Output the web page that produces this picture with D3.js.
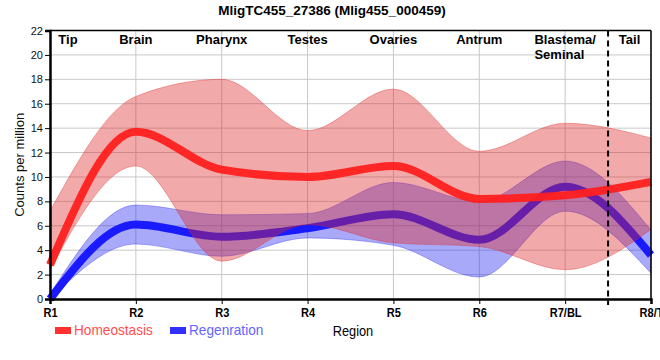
<!DOCTYPE html>
<html>
<head>
<meta charset="utf-8">
<script src="https://cdn.jsdelivr.net/npm/d3@7/dist/d3.min.js"></script>
<style>
  html, body { margin: 0; padding: 0; background: #fff; }
  svg { display: block; }
  text { font-family: "Liberation Sans", Arial, sans-serif; }
</style>
</head>
<body>
<svg id="chart" width="660" height="360"></svg>
<script>
// ---- data ----
const title = "MligTC455_27386 (Mlig455_000459)";
const regions = ["R1", "R2", "R3", "R4", "R5", "R6", "R7/BL", "R8/T"];
const regionNames = ["Tip", "Brain", "Pharynx", "Testes", "Ovaries", "Antrum", "Blastema/\nSeminal", "Tail"];
const yTicks = [0, 2, 4, 6, 8, 10, 12, 14, 16, 18, 20, 22];
const homeoMean = [2.8, 13.7, 10.6, 10.0, 10.9, 8.2, 8.5, 9.6];
const homeoLow  = [2.4, 10.9, 3.1, 6.1, 4.6, 4.3, 2.4, 5.7];
const homeoHigh = [7.2, 16.6, 18.0, 13.8, 17.2, 12.1, 14.4, 13.2];
const regenMean = [0.0, 6.1, 5.1, 5.8, 6.95, 4.85, 9.2, 3.6];
const regenLow  = [0.0, 4.5, 3.5, 5.0, 4.4, 1.8, 7.2, 2.1];
const regenHigh = [0.4, 7.7, 6.9, 7.0, 9.55, 8.0, 11.3, 5.65];
const seriesNames = ["Homeostasis", "Regenration"];
const dividerAt = 6.5; // between R7/BL and R8/T

// ---- layout ----
const svg = d3.select("#chart");
const L = 50, R = 651, T = 30.5, B = 299;
const x = d3.scaleLinear().domain([0, regions.length - 1]).range([L, R]);
const y = d3.scaleLinear().domain([0, 22]).range([B, T]);

// condense helper (narrow font look)
function condense(sel, f) {
  sel.each(function () {
    const w = this.getComputedTextLength();
    d3.select(this).attr("textLength", w * f).attr("lengthAdjust", "spacingAndGlyphs");
  });
}

// grid
const grid = svg.append("g");
grid.selectAll("line.h").data(yTicks).join("line")
  .attr("x1", L).attr("x2", R).attr("y1", d => y(d)).attr("y2", d => y(d))
  .attr("stroke", "#c8c8c8").attr("stroke-width", 1);
grid.selectAll("line.v").data(regions.map((d, i) => i)).join("line")
  .attr("x1", d => x(d)).attr("x2", d => x(d)).attr("y1", T).attr("y2", B)
  .attr("stroke", "#c8c8c8").attr("stroke-width", 1);

const idx = regions.map((d, i) => i);
const curve = d3.curveMonotoneX;
const band = (lo, hi) => d3.area().curve(curve).x(i => x(i)).y0(i => y(lo[i])).y1(i => y(hi[i]))(idx);
const line = (m) => d3.line().curve(curve).x(i => x(i)).y(i => y(m[i]))(idx);

// regeneration (drawn first, below)
svg.append("path").attr("d", band(regenLow, regenHigh))
  .attr("fill", "rgb(40,40,240)").attr("fill-opacity", 0.4)
  .attr("stroke", "rgb(40,40,240)").attr("stroke-opacity", 0.35).attr("stroke-width", 1);
svg.append("path").attr("d", line(regenMean))
  .attr("fill", "none").attr("stroke", "#1a1aff").attr("stroke-width", 8);

// homeostasis
svg.append("path").attr("d", band(homeoLow, homeoHigh))
  .attr("fill", "rgb(220,40,40)").attr("fill-opacity", 0.4)
  .attr("stroke", "rgb(220,40,40)").attr("stroke-opacity", 0.35).attr("stroke-width", 1);
svg.append("path").attr("d", line(homeoMean))
  .attr("fill", "none").attr("stroke", "#ff1f1f").attr("stroke-opacity", 0.95).attr("stroke-width", 8);

// frame
svg.append("line").attr("x1", L).attr("x2", R).attr("y1", T).attr("y2", T).attr("stroke", "#000").attr("stroke-width", 1.5);
svg.append("line").attr("x1", R).attr("x2", R).attr("y1", T).attr("y2", B).attr("stroke", "#000").attr("stroke-width", 1.5);

// axes
const yAxis = d3.axisLeft(y).tickValues(yTicks).tickSize(5).tickPadding(2);
const gy = svg.append("g").attr("transform", `translate(${L},0)`).call(yAxis);
gy.select(".domain").attr("stroke-width", 2.5);
gy.selectAll(".tick line").attr("stroke-width", 1);
gy.selectAll(".tick text").attr("font-size", 11).attr("font-family", "Liberation Sans, Arial, sans-serif").attr("fill", "#111");

const xAxis = d3.axisBottom(x).tickValues(idx).tickFormat(i => regions[i]).tickSize(5).tickPadding(4);
const gx = svg.append("g").attr("transform", `translate(0,${B})`).call(xAxis);
gx.select(".domain").attr("stroke-width", 2.5);
gx.selectAll(".tick text").attr("font-family", "Liberation Sans, Arial, sans-serif")
  .attr("font-size", 13).attr("font-weight", "bold").attr("fill", "#000");
condense(gx.selectAll(".tick text"), 0.85);

// divider
svg.append("line").attr("x1", x(dividerAt)).attr("x2", x(dividerAt)).attr("y1", T).attr("y2", B + 6)
  .attr("stroke", "#000").attr("stroke-width", 2).attr("stroke-dasharray", "6,4");

// region names at top
regionNames.forEach((name, i) => {
  let cx;
  if (i === 0) cx = x(0) + 18;
  else if (i === regionNames.length - 1) cx = (x(dividerAt) + x(regions.length - 1)) / 2;
  else cx = x(i);
  const lines = name.split("\n");
  const t = svg.append("text").attr("font-size", 13).attr("font-weight", "bold").attr("fill", "#000");
  lines.forEach((s, k) => t.append("tspan").attr("y", 44 + k * 15).text(s));
  const spans = t.selectAll("tspan").nodes();
  const w = d3.max(spans, n => n.getComputedTextLength());
  spans.forEach(n => d3.select(n).attr("x", cx - w / 2));
});

// title
svg.append("text").attr("x", 332).attr("y", 15)
  .attr("text-anchor", "middle").attr("font-size", 13.5).attr("font-weight", "bold").text(title);

// y label
svg.append("text").attr("transform", `translate(24,${(T + B) / 2}) rotate(-90)`)
  .attr("text-anchor", "middle").attr("font-size", 13).attr("fill", "#111").text("Counts per million");

// x label
const xl = svg.append("text").attr("x", 353).attr("y", 336)
  .attr("text-anchor", "middle").attr("font-size", 14.5).attr("fill", "#000").text("Region");
condense(xl, 0.88);

// legend
const legendColors = [["#ff3030", "#ff5050"], ["#3030ff", "#6464ff"]];
const legendX = [55, 170];
seriesNames.forEach((s, i) => {
  svg.append("rect").attr("x", legendX[i]).attr("y", 327).attr("width", 16).attr("height", 7)
    .attr("fill", legendColors[i][0]);
  const lt = svg.append("text").attr("x", legendX[i] + 19).attr("y", 335)
    .attr("font-size", 15).attr("fill", legendColors[i][1]).text(s);
  condense(lt, 0.91);
});
</script>
</body>
</html>
